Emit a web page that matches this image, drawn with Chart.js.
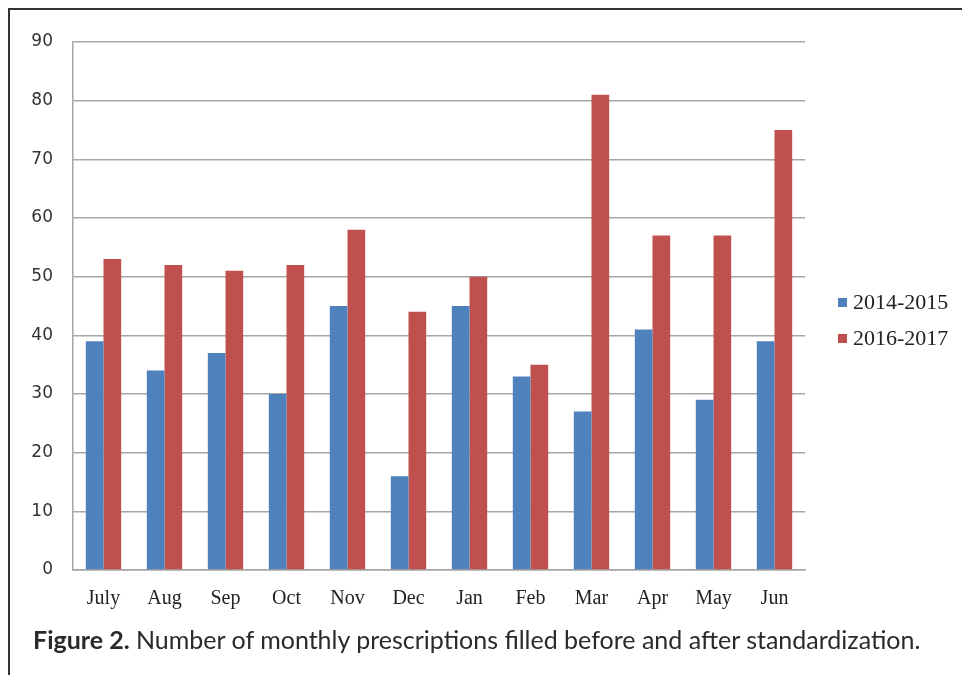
<!DOCTYPE html>
<html>
<head>
<meta charset="utf-8">
<script src="https://cdn.jsdelivr.net/npm/chart.js@4"></script>
<style>
  html, body { margin: 0; padding: 0; background: #fff; }
  body { width: 962px; height: 675px; position: relative; overflow: hidden; }
  .frame { position: absolute; left: 8px; top: 8px; width: 1000px; height: 700px;
           border-left: 2px solid #333; border-top: 2px solid #333; }
  .wrap { position: absolute; left: 0; top: 0; width: 962px; height: 625px; }
  .legend { position: absolute; left: 838px; top: 288px; font-family: "Liberation Serif", serif;
            font-size: 22px; color: #222; }
  .legend div { height: 36px; line-height: 28px; white-space: nowrap; }
  .legend span { display: inline-block; width: 9px; height: 9px; margin-right: 6px; vertical-align: 2px; }
  .caption { position: absolute; left: 33px; top: 624px; font-family: Lato, sans-serif;
             font-size: 25px; color: #2a2a2a; white-space: nowrap; }
</style>
</head>
<body>
<div class="frame"></div>
<div class="wrap"><canvas id="chart" width="962" height="625"></canvas></div>
<div class="legend" id="legend"></div>
<div class="caption"><b>Figure 2.</b> Number of monthly prescriptions filled before and after standardization.</div>
<script>
const months = ['July', 'Aug', 'Sep', 'Oct', 'Nov', 'Dec', 'Jan', 'Feb', 'Mar', 'Apr', 'May', 'Jun'];
const before = [39, 34, 37, 30, 45, 16, 45, 33, 27, 41, 29, 39];
const after = [53, 52, 51, 52, 58, 44, 50, 35, 81, 57, 57, 75];
const seriesNames = ['2014-2015', '2016-2017'];
const colors = ['#4F81BD', '#C0504D'];

// legend as html
const legendEl = document.getElementById('legend');
seriesNames.forEach((name, i) => {
  const row = document.createElement('div');
  const box = document.createElement('span');
  box.style.background = colors[i];
  row.appendChild(box);
  row.appendChild(document.createTextNode(name));
  legendEl.appendChild(row);
});

const ctx = document.getElementById('chart').getContext('2d');
new Chart(ctx, {
  type: 'bar',
  data: {
    labels: months,
    datasets: [
      { label: seriesNames[0], data: before, backgroundColor: colors[0], borderWidth: 0 },
      { label: seriesNames[1], data: after, backgroundColor: colors[1], borderWidth: 0 }
    ]
  },
  options: {
    responsive: false,
    animation: false,
    layout: { padding: { left: 0, right: 157, top: 42, bottom: 0 } },
    datasets: { bar: { categoryPercentage: 0.58, barPercentage: 1 } },
    plugins: { legend: { display: false }, tooltip: { enabled: false } },
    scales: {
      x: {
        grid: { display: false, drawTicks: false },
        border: { color: '#a6a6a6', width: 1.5 },
        ticks: { padding: 17, color: '#222', font: { family: 'Liberation Serif', size: 20 } },
        afterFit: s => { s.height = 55; }
      },
      y: {
        min: 0, max: 90,
        grid: { color: '#a6a6a6', lineWidth: 1.5, drawTicks: false },
        border: { color: '#a6a6a6', width: 1.5 },
        ticks: { stepSize: 10, padding: 20, color: '#333', font: { family: 'DejaVu Sans', size: 17 } },
        afterFit: s => { s.width = 73; }
      }
    }
  }
});
</script>
</body>
</html>
